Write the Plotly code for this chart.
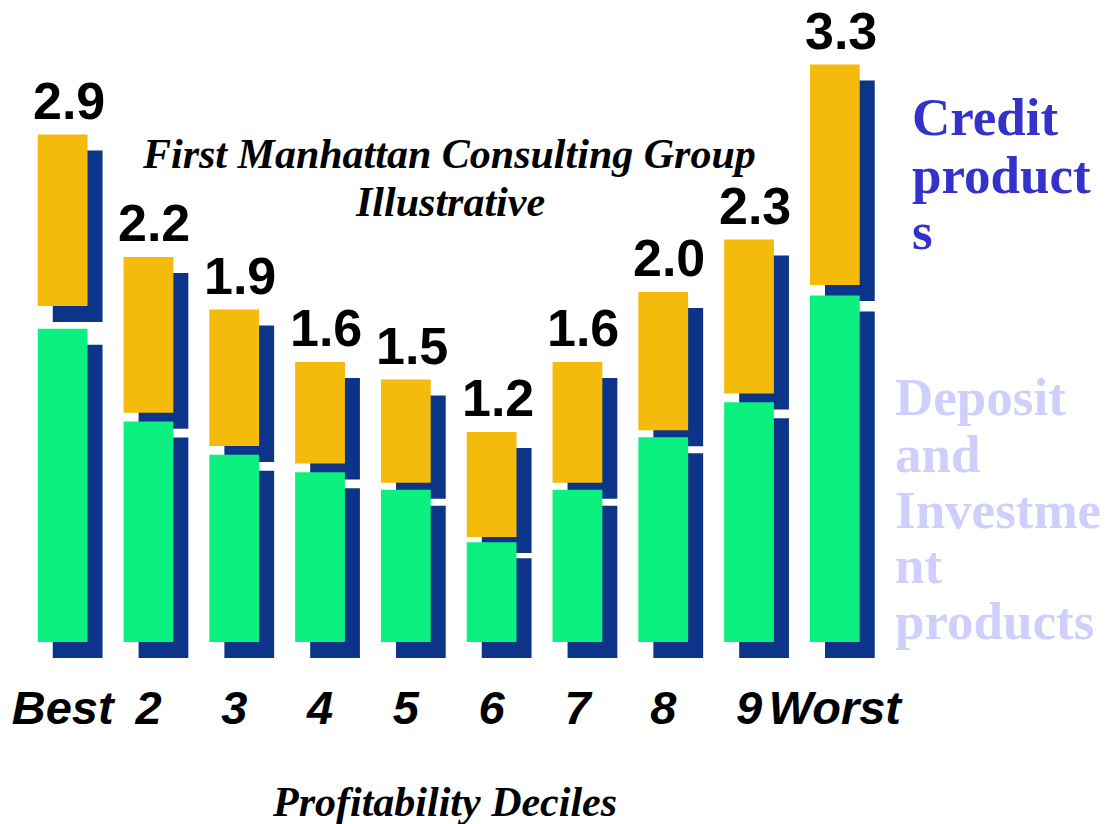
import plotly.graph_objects as go

# products per customer by profitability decile
deciles = ["Best", "2", "3", "4", "5", "6", "7", "8", "9", "Worst"]
totals = [2.9, 2.2, 1.9, 1.6, 1.5, 1.2, 1.6, 2.0, 2.3, 3.3]
deposit = [1.79, 1.26, 1.07, 0.97, 0.87, 0.57, 0.87, 1.17, 1.37, 1.98]
credit = [0.98, 0.89, 0.78, 0.58, 0.59, 0.60, 0.69, 0.79, 0.88, 1.26]

# credit block sits on top, its top edge at the total
credit_base = [t - c for t, c in zip(totals, credit)]

W, H = 1107, 824
MB = 148                 # bottom margin, room for the decile labels
PLOT_H = H - MB

BAR_W = 0.58
SHADOW_DX = 0.175
SHADOW_DY = 0.091

GREEN = "#0cf07f"
ORANGE = "#f4bb0c"
SHADOW = "#0c358a"

SANS = "Liberation Sans, Arial, sans-serif"
SERIF = "Liberation Serif, Times New Roman, serif"


def px_x(px):
    return px / W


def px_y(px):
    return (PLOT_H - px) / PLOT_H


fig = go.Figure()

# drop shadows first
fig.add_trace(go.Bar(x=deciles, y=deposit, base=[-SHADOW_DY] * len(deciles),
                     width=BAR_W, offset=-BAR_W / 2 + SHADOW_DX,
                     marker=dict(color=SHADOW, line=dict(width=0)),
                     hoverinfo="skip"))
fig.add_trace(go.Bar(x=deciles, y=credit, base=[b - SHADOW_DY for b in credit_base],
                     width=BAR_W, offset=-BAR_W / 2 + SHADOW_DX,
                     marker=dict(color=SHADOW, line=dict(width=0)),
                     hoverinfo="skip"))

# front blocks
fig.add_trace(go.Bar(x=deciles, y=deposit, name="Deposit and Investment products",
                     width=BAR_W, offset=-BAR_W / 2,
                     marker=dict(color=GREEN, line=dict(width=0))))
fig.add_trace(go.Bar(x=deciles, y=credit, base=credit_base, name="Credit products",
                     width=BAR_W, offset=-BAR_W / 2,
                     marker=dict(color=ORANGE, line=dict(width=0))))

annotations = []

# totals above each bar (x by index: "2".."9" would be read as positions)
for i, t in enumerate(totals):
    annotations.append(dict(
        x=i, y=t, xref="x", yref="y", text=f"{t:.1f}", showarrow=False,
        xanchor="center", yanchor="bottom", xshift=6, yshift=3,
        font=dict(family=SANS, size=52, color="black", weight="bold")))

# title block
annotations.append(dict(
    x=px_x(449), y=px_y(154), xref="paper", yref="paper",
    text="First Manhattan Consulting Group", showarrow=False,
    xanchor="center", yanchor="middle",
    font=dict(family=SERIF, size=42, color="black", weight="bold", style="italic")))
annotations.append(dict(
    x=px_x(450), y=px_y(202), xref="paper", yref="paper",
    text="Illustrative", showarrow=False,
    xanchor="center", yanchor="middle",
    font=dict(family=SERIF, size=42, color="black", weight="bold", style="italic")))

# axis title
annotations.append(dict(
    x=px_x(444), y=px_y(802), xref="paper", yref="paper",
    text="Profitability Deciles", showarrow=False,
    xanchor="center", yanchor="middle",
    font=dict(family=SERIF, size=42, color="black", weight="bold", style="italic")))

# side legend, one line per annotation to keep the tight leading
for txt, yy in zip(["Credit", "product", "s"], [117, 175, 231]):
    annotations.append(dict(
        x=px_x(910), y=px_y(yy), xref="paper", yref="paper", text=txt,
        showarrow=False, xanchor="left", yanchor="middle",
        font=dict(family=SERIF, size=53, color="#3333cc", weight="bold")))

for txt, yy in zip(["Deposit", "and", "Investme", "nt", "products"],
                   [397, 454, 510, 565, 621]):
    annotations.append(dict(
        x=px_x(893), y=px_y(yy), xref="paper", yref="paper", text=txt,
        showarrow=False, xanchor="left", yanchor="middle",
        font=dict(family=SERIF, size=53, color="#cfcffc", weight="bold")))

fig.update_layout(
    width=W, height=H, autosize=False,
    margin=dict(l=0, r=0, t=0, b=MB, pad=0),
    barmode="overlay",
    showlegend=False,
    paper_bgcolor="white",
    plot_bgcolor="white",
    annotations=annotations,
    xaxis=dict(
        type="category",
        range=[-0.73, 12.172],
        showgrid=False, zeroline=False, showline=False, ticks="",
        tickfont=dict(family=SANS, size=47, color="black",
                      weight="bold", style="italic"),
        fixedrange=True,
    ),
    yaxis=dict(
        range=[-0.194, 3.669],
        visible=False, showgrid=False, zeroline=False,
        fixedrange=True,
    ),
)

# page body margin would push the figure 8px off the window
fig.write_html("out.html", config={"displayModeBar": False},
               post_script="document.body.style.margin='0';"
                           "document.body.style.overflow='hidden';")
